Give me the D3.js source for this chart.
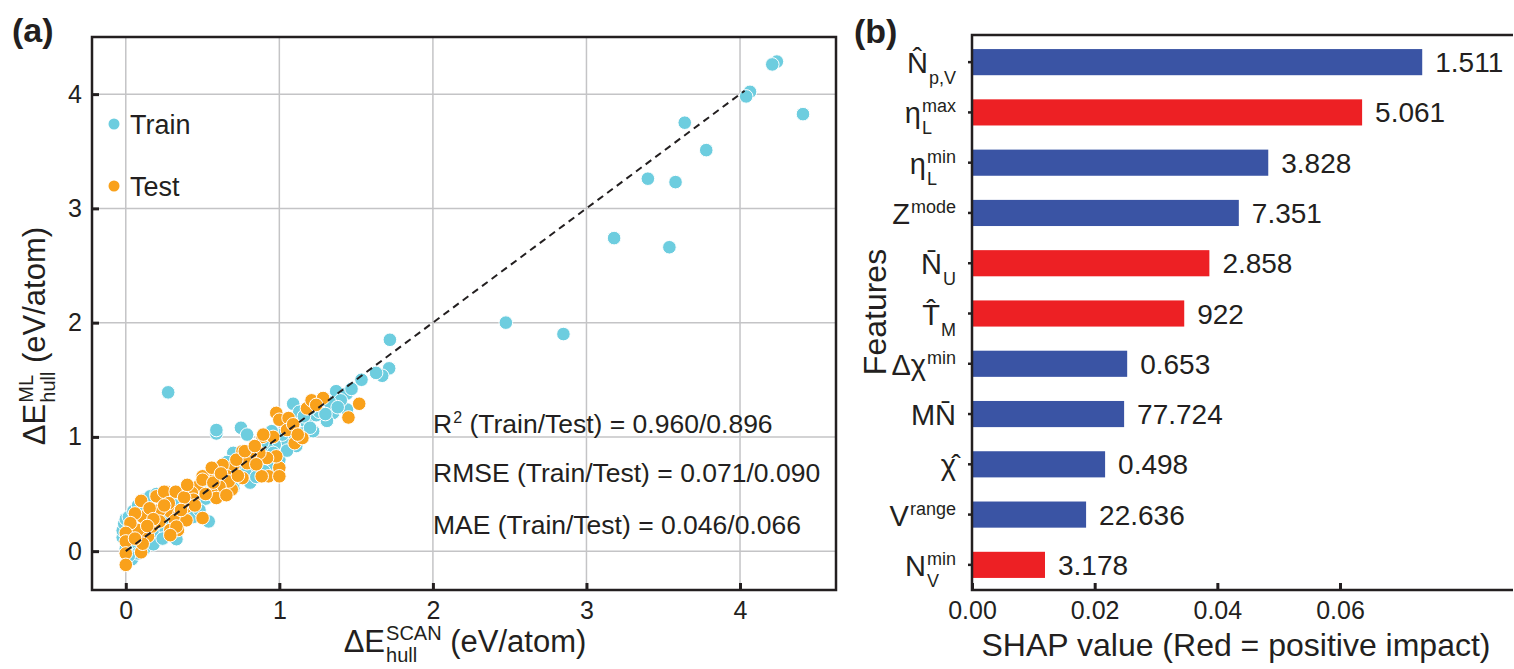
<!DOCTYPE html>
<html>
<head>
<meta charset="utf-8">
<title>ML vs SCAN hull energy and SHAP importance</title>
<script src="https://cdn.jsdelivr.net/npm/d3@7"></script>
<style>
  body { margin: 0; background: #fff; }
  text { font-family: "Liberation Sans", Arial, sans-serif; fill: #231f20; white-space: pre; }
</style>
</head>
<body>
<div id="chart"></div>
<script>
// ---- data ----
var trainPts = [
  [4.24,4.285],[4.21,4.26],[4.065,4.02],[4.04,3.98],[4.41,3.825],[3.64,3.75],[3.78,3.51],
  [3.40,3.26],[3.58,3.23],[3.18,2.74],[3.54,2.66],[2.475,2.0],[2.85,1.90],[1.72,1.85],
  [1.715,1.60],[1.67,1.535],[1.63,1.56],[1.535,1.50],[0.276,1.39],[0.59,1.03],[0.59,1.06],
  [0.75,1.08],[0.79,1.02],[0.33,0.105],[0.54,0.26],[0.04,-0.07],
  [1.09,1.29],[1.37,1.40],[1.44,1.38],[1.35,1.21],[1.44,1.24],[1.31,1.14],[1.22,1.05],
  [1.18,1.12],[1.24,1.19],[1.13,1.22],[1.05,0.96],[1.11,0.92],[1.0,0.74],[0.81,0.60],
  [0.83,0.74],[0.70,0.86],[1.40,1.32],[1.47,1.42],[1.28,1.27],[1.33,1.30],[1.26,1.22],
  [1.20,1.25],[1.16,1.18],[1.08,1.04],[1.15,1.03],[1.02,1.02],[0.97,0.93],[0.92,0.90],
  [0.95,1.05],[0.89,0.95],[0.85,0.88],[0.88,0.80],[0.93,0.75],[1.0,0.80],[0.99,0.68],
  [0.77,0.80],[0.73,0.72],[0.66,0.78],[0.62,0.74],[0.58,0.70],[0.55,0.66],[0.52,0.62],
  [0.48,0.58],[0.60,0.55],[0.65,0.60],[0.72,0.62],[0.78,0.68],[0.45,0.52],[0.40,0.47],
  [0.36,0.44],[0.32,0.40],[0.38,0.35],[0.42,0.38],[0.47,0.42],[0.52,0.46],[0.56,0.50],
  [0.28,0.32],[0.25,0.28],[0.22,0.24],[0.18,0.20],[0.14,0.16],[0.10,0.12],[0.06,0.08],
  [0.03,0.04],[0.0,0.02],[-0.02,0.12],[-0.02,0.18],[-0.01,0.24],[0.0,0.28],[0.02,0.30],
  [0.05,0.35],[0.08,0.40],[0.12,0.45],[0.16,0.48],[0.20,0.50],[0.24,0.46],[0.14,0.10],
  [0.20,0.14],[0.26,0.18],[0.30,0.24],[0.35,0.28],[0.44,0.30],[0.48,0.36],[0.08,-0.02],
  [0.12,0.02],[0.18,0.06],[0.24,0.11],[0.02,-0.04],[0.85,0.65],[0.90,0.70],[0.64,0.50],
  [0.70,0.55],[1.12,0.98],[1.20,1.08],[1.30,1.20],[1.38,1.26],[1.05,0.88],[0.96,0.86]
];
var testPts = [
  [0.98,1.21],[1.0,1.15],[1.06,1.165],[1.18,1.25],[1.21,1.32],[1.285,1.34],[1.52,1.29],
  [1.45,1.17],[0.89,1.0],[0.96,1.0],[1.10,0.945],[1.15,0.99],[1.05,1.06],[1.09,1.11],
  [1.0,0.73],[0.93,0.655],[0.885,0.655],[0.98,0.83],[0.92,0.815],[0.87,0.86],[0.81,0.845],
  [0.76,0.64],[0.76,0.875],[0.79,0.77],[0.70,0.74],[0.63,0.755],[0.66,0.655],[0.69,0.54],
  [0.67,0.61],[0.61,0.565],[0.57,0.625],[0.56,0.51],[0.50,0.655],[0.47,0.565],[0.43,0.51],
  [0.50,0.29],[0.44,0.45],[0.395,0.39],[0.33,0.52],[0.265,0.52],[0.20,0.48],[0.10,0.44],
  [0.29,0.345],[0.22,0.36],[0.35,0.33],[0.32,0.27],[0.29,0.185],[0.34,0.185],[0.145,0.13],
  [0.17,0.215],[0.22,0.26],[0.11,0.30],[0.06,0.33],[0.08,0.185],[0.03,0.245],[0.0,0.16],
  [0.0,0.085],[0.0,-0.02],[0.0,-0.12],[0.10,-0.01],[0.11,0.065],[0.06,0.11],[0.155,0.375],
  [0.59,0.465],[0.25,0.52],[0.325,0.52],[0.50,0.625],[0.57,0.60],[0.72,0.80],[0.775,0.875],
  [0.895,1.02],[1.0,0.655],[0.395,0.27],[0.33,0.215],[0.29,0.14],[0.655,0.49],[0.56,0.73],
  [0.38,0.47],[0.45,0.40],[0.52,0.50],[0.40,0.58],[0.28,0.42],[0.18,0.28],[0.25,0.40],
  [0.14,0.22],[0.36,0.36],[0.62,0.68],[0.84,0.92],[0.85,0.76],[0.73,0.66],[1.24,1.28],
  [1.12,1.02]
];
var ticksA = [0, 1, 2, 3, 4];
var metricLines = [
  ["R", "2", " (Train/Test) = 0.960/0.896"],
  ["RMSE (Train/Test) = 0.071/0.090", "", ""],
  ["MAE (Train/Test) = 0.046/0.066", "", ""]
];

// panel (b)
var features = ["Np", "etaMax", "etaMin", "Zmode", "Nu", "Tm", "dchi", "MN", "chi", "Vrange", "Nvmin"];
var shapVals = [0.0734, 0.0636, 0.0483, 0.0435, 0.0387, 0.0346, 0.0253, 0.0248, 0.0217, 0.0186, 0.0119];
var featVals = ["1.511", "5.061", "3.828", "7.351", "2.858", "922", "0.653", "77.724", "0.498", "22.636", "3.178"];
var positive = [false, true, false, false, true, true, false, false, false, false, true];
var featLabels = [
  {base: "N\u0302", sub: "p,V"},
  {base: "\u03b7", sup: "max", sub: "L"},
  {base: "\u03b7", sup: "min", sub: "L"},
  {base: "Z", sup: "mode"},
  {base: "N\u0304", sub: "U"},
  {base: "T\u0302", sub: "M"},
  {base: "\u0394\u03c7", sup: "min"},
  {base: "MN\u0304"},
  {base: "\u03c7\u0302"},
  {base: "V", sup: "range"},
  {base: "N", sup: "min", sub: "V"}
];
var ticksB = [0, 0.02, 0.04, 0.06];

var W = 1514, H = 669;
var ink = "#231f20", gridCol = "#c4c4c6";
var trainCol = "#6dcddf", testCol = "#f9a11b";
var blue = "#3a54a4", red = "#ed2024";

var svg = d3.select("#chart").append("svg")
  .attr("width", W).attr("height", H);
svg.append("rect").attr("width", W).attr("height", H).attr("fill", "#fff");

// base text + stacked sup/sub + tail, returns total width
function rich(g, base, sup, sub, tail, fs, ss, supY, subY) {
  var t = g.append("text").attr("font-size", fs).text(base);
  var w = t.node().getComputedTextLength();
  var sw = 0;
  if (sup) {
    var s1 = g.append("text").attr("x", w + 1).attr("y", supY).attr("font-size", ss).text(sup);
    sw = s1.node().getComputedTextLength() + 1;
  }
  if (sub) {
    var s2 = g.append("text").attr("x", w + 1).attr("y", subY).attr("font-size", ss).text(sub);
    sw = Math.max(sw, s2.node().getComputedTextLength() + 1);
  }
  w += sw;
  if (tail) {
    var t2 = g.append("text").attr("x", w).attr("font-size", fs).text(tail);
    w += t2.node().getComputedTextLength();
  }
  return w;
}

// ================= panel (a) =================
var x = d3.scaleLinear().domain([-0.22, 4.625]).range([92, 836]);
var y = d3.scaleLinear().domain([-0.34, 4.5]).range([590, 37]);
var gA = svg.append("g");

// grid
gA.append("g").selectAll("line").data(ticksA).enter().append("line")
  .attr("x1", function(d) { return x(d); }).attr("x2", function(d) { return x(d); })
  .attr("y1", y.range()[0]).attr("y2", y.range()[1])
  .attr("stroke", gridCol).attr("stroke-width", 1.5);
gA.append("g").selectAll("line").data(ticksA).enter().append("line")
  .attr("y1", function(d) { return y(d); }).attr("y2", function(d) { return y(d); })
  .attr("x1", x.range()[0]).attr("x2", x.range()[1])
  .attr("stroke", gridCol).attr("stroke-width", 1.5);

// scatter
gA.append("g").selectAll("circle").data(trainPts).enter().append("circle")
  .attr("cx", function(d) { return x(d[0]); }).attr("cy", function(d) { return y(d[1]); })
  .attr("r", 6.8).attr("fill", trainCol).attr("stroke", "#fff").attr("stroke-width", 1);
gA.append("g").selectAll("circle").data(testPts).enter().append("circle")
  .attr("cx", function(d) { return x(d[0]); }).attr("cy", function(d) { return y(d[1]); })
  .attr("r", 6.8).attr("fill", testCol).attr("stroke", "#fff").attr("stroke-width", 1);

// y = x
gA.append("line")
  .attr("x1", x(0)).attr("y1", y(0)).attr("x2", x(4.03)).attr("y2", y(4.03))
  .attr("stroke", ink).attr("stroke-width", 2).attr("stroke-dasharray", "7,5");

// frame
gA.append("rect")
  .attr("x", 92).attr("y", 37).attr("width", 836 - 92).attr("height", 590 - 37)
  .attr("fill", "none").attr("stroke", ink).attr("stroke-width", 2.5);

// axes
var axB = gA.append("g").attr("transform", "translate(0,590)")
  .call(d3.axisBottom(x).tickValues(ticksA).tickSize(-7).tickPadding(11).tickFormat(d3.format("d")));
var axL = gA.append("g").attr("transform", "translate(92,0)")
  .call(d3.axisLeft(y).tickValues(ticksA).tickSize(-7).tickPadding(10).tickFormat(d3.format("d")));
[axB, axL].forEach(function(a) {
  a.select(".domain").remove();
  a.selectAll(".tick line").attr("stroke", ink).attr("stroke-width", 3);
  a.selectAll(".tick text").attr("font-size", 25).attr("fill", ink)
    .style("font-family", "'Liberation Sans', Arial, sans-serif");
});

// legend
[["Train", trainCol, 124], ["Test", testCol, 186]].forEach(function(l) {
  gA.append("circle").attr("cx", 114).attr("cy", l[2]).attr("r", 5.5).attr("fill", l[1]);
  gA.append("text").attr("x", 130).attr("y", l[2] + 10).attr("font-size", 27).text(l[0]);
});

// metrics
var metricY = [433, 482, 534];
metricLines.forEach(function(m, i) {
  var g = gA.append("g").attr("transform", "translate(433," + metricY[i] + ")");
  rich(g, m[0], m[1], "", m[2], 26.5, 16, -10, 0);
});

// axis titles
var gxt = gA.append("g");
var wx = rich(gxt, "\u0394E", "SCAN", "hull", " (eV/atom)", 31, 20, -12, 10);
gxt.attr("transform", "translate(" + (465 - wx / 2) + ",652)");

var gyt = gA.append("g").attr("transform", "translate(45,336) rotate(-90)");
var gyi = gyt.append("g");
var wy = rich(gyi, "\u0394E", "ML", "hull", " (eV/atom)", 31, 20, -12, 10);
gyi.attr("transform", "translate(" + (-wy / 2) + ",0)");

svg.append("text").attr("x", 12).attr("y", 42).attr("font-size", 34)
  .attr("font-weight", "bold").text("(a)");

// ================= panel (b) =================
var xb = d3.scaleLinear().domain([0, 0.0882]).range([972, 1513]);
var yb = d3.scaleBand().domain(features).range([37, 590]).paddingInner(0.48).paddingOuter(0.24);
var gB = svg.append("g");

gB.append("g").selectAll("rect").data(features).enter().append("rect")
  .attr("x", xb(0))
  .attr("y", function(d) { return yb(d); })
  .attr("width", function(d, i) { return xb(shapVals[i]) - xb(0); })
  .attr("height", yb.bandwidth())
  .attr("fill", function(d, i) { return positive[i] ? red : blue; });

gB.append("g").selectAll("text").data(features).enter().append("text")
  .attr("x", function(d, i) { return xb(shapVals[i]) + 13; })
  .attr("y", function(d) { return yb(d) + yb.bandwidth() / 2 + 10; })
  .attr("font-size", 28)
  .text(function(d, i) { return featVals[i]; });

// frame lines: left, top, bottom
gB.append("path")
  .attr("d", "M1513,35H972V590H1513")
  .attr("fill", "none").attr("stroke", ink).attr("stroke-width", 2.5);

var axBb = gB.append("g").attr("transform", "translate(0,590)")
  .call(d3.axisBottom(xb).tickValues(ticksB).tickSize(-7).tickPadding(11).tickFormat(d3.format(".2f")));
axBb.select(".domain").remove();
axBb.selectAll(".tick line").attr("stroke", ink).attr("stroke-width", 3);
axBb.selectAll(".tick text").attr("font-size", 25).attr("fill", ink)
  .style("font-family", "'Liberation Sans', Arial, sans-serif");

var axLb = gB.append("g").attr("transform", "translate(972,0)")
  .call(d3.axisLeft(yb).tickSize(4).tickFormat(""));
axLb.select(".domain").remove();
axLb.selectAll(".tick line").attr("stroke", ink).attr("stroke-width", 2.5);

// feature labels
features.forEach(function(f, i) {
  var lab = featLabels[i];
  var c = yb(f) + yb.bandwidth() / 2;
  var g = gB.append("g");
  var w = rich(g, lab.base, lab.sup, lab.sub, "", 29, 18, -11, 11);
  g.attr("transform", "translate(" + (956 - w) + "," + (c + 11) + ")");
});

gB.append("text").attr("transform", "translate(886,312) rotate(-90)")
  .attr("text-anchor", "middle").attr("font-size", 32).text("Features");

gB.append("text").attr("x", 1236).attr("y", 656).attr("text-anchor", "middle")
  .attr("font-size", 32).text("SHAP value (Red = positive impact)");

svg.append("text").attr("x", 854).attr("y", 43).attr("font-size", 34)
  .attr("font-weight", "bold").text("(b)");
</script>
</body>
</html>
